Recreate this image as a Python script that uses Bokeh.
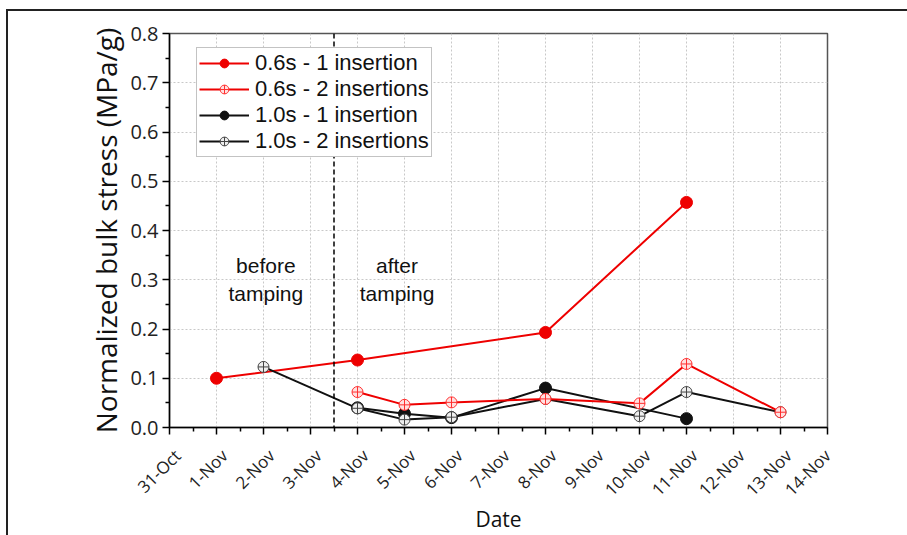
import math
from bokeh.plotting import figure
from bokeh.layouts import column
from bokeh.models import (Range1d, FixedTicker, Span, Legend, LegendItem, PrintfTickFormatter,
                          ColumnDataSource, LinearAxis, Div)
from bokeh.core.properties import value
from bokeh.embed import file_html
from bokeh.resources import INLINE

date_labels = ["31-Oct", "1-Nov", "2-Nov", "3-Nov", "4-Nov", "5-Nov", "6-Nov", "7-Nov",
               "8-Nov", "9-Nov", "10-Nov", "11-Nov", "12-Nov", "13-Nov", "14-Nov"]
y_ticks = [0.0, 0.1, 0.2, 0.3, 0.4, 0.5, 0.6, 0.7, 0.8]

d_06_1 = ["1-Nov", "4-Nov", "8-Nov", "11-Nov"]
v_06_1 = [0.100, 0.137, 0.193, 0.457]
d_06_2 = ["4-Nov", "5-Nov", "6-Nov", "8-Nov", "10-Nov", "11-Nov", "13-Nov"]
v_06_2 = [0.072, 0.046, 0.051, 0.058, 0.049, 0.129, 0.031]
d_10_1 = ["4-Nov", "5-Nov", "6-Nov", "8-Nov", "11-Nov"]
v_10_1 = [0.040, 0.028, 0.020, 0.080, 0.018]
d_10_2 = ["2-Nov", "4-Nov", "5-Nov", "6-Nov", "8-Nov", "10-Nov", "11-Nov", "13-Nov"]
v_10_2 = [0.123, 0.039, 0.016, 0.021, 0.058, 0.023, 0.072, 0.031]

tamping_boundary = 3.5  # between 3-Nov and 4-Nov

def xi(dates):
    return [date_labels.index(d) for d in dates]

n = len(date_labels)
p = figure(width=899, height=524, x_range=Range1d(0, n - 1), y_range=Range1d(0, 0.8),
           output_backend="svg", toolbar_location=None,
           min_border_left=161, min_border_right=80, min_border_top=22, min_border_bottom=107)
p.styles = {"outline": "2px solid #222", "margin-left": "8px"}
p.background_fill_color = "white"
p.border_fill_color = "white"
p.outline_line_color = "#555555"
p.outline_line_width = 1.5

# main axes (ticks only on x)
p.xaxis.ticker = FixedTicker(ticks=list(range(n)), minor_ticks=[i + 0.5 for i in range(n - 1)])
p.xaxis.major_label_overrides = {i: "" for i in range(n)}
p.xaxis.major_label_text_font_size = "0px"
p.xaxis.major_label_standoff = 0
p.yaxis.ticker = FixedTicker(ticks=y_ticks, minor_ticks=[t + 0.05 for t in y_ticks[:-1]])
p.yaxis.formatter = PrintfTickFormatter(format="%.1f")

for ax in (p.xaxis[0], p.yaxis[0]):
    ax.axis_line_color = "black"
    ax.axis_line_width = 1.5
    ax.major_tick_line_color = "black"
    ax.major_tick_line_width = 1.5
    ax.minor_tick_line_color = "black"
    ax.minor_tick_line_width = 1.5
    ax.major_tick_in = 0
    ax.major_tick_out = 7
    ax.minor_tick_in = 0
    ax.minor_tick_out = 4
    ax.major_label_text_font = "Open Sans"
    ax.major_label_text_color = "#222222"
    ax.axis_label_text_font = "Open Sans"
    ax.axis_label_text_font_style = "normal"
    ax.axis_label_text_color = "#111111"

p.yaxis.major_label_text_font_size = "20px"
p.yaxis.axis_label = "Normalized bulk stress (MPa/g)"
p.yaxis.axis_label_text_font_size = "28px"
p.yaxis.axis_label_standoff = 2
p.yaxis.major_label_standoff = 4

# date labels on a slightly shifted label axis (labels sit a bit right of their ticks)
shift = 0.17
p.extra_x_ranges = {"labels": Range1d(-shift, (n - 1) - shift)}
lab_ticks = list(range(n - 1)) + [(n - 1) - shift]
lab_axis = LinearAxis(x_range_name="labels", ticker=FixedTicker(ticks=lab_ticks),
                      major_label_overrides={t: lab for t, lab in zip(lab_ticks, date_labels)},
                      axis_line_color=None, major_tick_line_color=None, minor_tick_line_color=None,
                      major_tick_in=0, major_tick_out=0, minor_tick_in=0, minor_tick_out=0,
                      major_label_orientation=math.pi / 4, major_label_standoff=18,
                      major_label_text_font="Open Sans", major_label_text_font_size="17px",
                      major_label_text_color="#222222",
                      axis_label="Date", axis_label_text_font="Open Sans",
                      axis_label_text_font_size="21px", axis_label_text_font_style="normal",
                      axis_label_text_color="#111111", axis_label_standoff=-7)
p.add_layout(lab_axis, "below")

for g in (p.xgrid[0], p.ygrid[0]):
    g.grid_line_color = "#c8c8c8"
    g.grid_line_dash = "2 2"
    g.grid_line_width = 1
p.xgrid.ticker = p.xaxis[0].ticker
p.ygrid.ticker = p.yaxis[0].ticker

p.add_layout(Span(location=tamping_boundary, dimension="height", line_color="black",
                  line_width=1.5, line_dash="5 3"))

red = "#ee0000"
blk = "#111111"

l1 = p.line(xi(d_06_1), v_06_1, line_color=red, line_width=2)
m1 = p.scatter(xi(d_06_1), v_06_1, marker="circle", size=12, fill_color=red, line_color=red)
l3 = p.line(xi(d_10_1), v_10_1, line_color=blk, line_width=2)
m3 = p.scatter(xi(d_10_1), v_10_1, marker="circle", size=12, fill_color=blk, line_color=blk)
l4 = p.line(xi(d_10_2), v_10_2, line_color=blk, line_width=2)
m4 = p.scatter(xi(d_10_2), v_10_2, marker="circle_cross", size=11, fill_color="#eeeeee",
               line_color="#444444", line_width=1)
l2 = p.line(xi(d_06_2), v_06_2, line_color=red, line_width=2)
m2 = p.scatter(xi(d_06_2), v_06_2, marker="circle_cross", size=11, fill_color="#ffe0e0",
               line_color="#ff3030", line_width=1)

# annotations
ann = ColumnDataSource(dict(x=[2.05, 2.05, 4.84, 4.84], y=[0.328, 0.273, 0.328, 0.273],
                            t=["before", "tamping", "after", "tamping"]))
p.text(x="x", y="y", text="t", source=ann, text_font=value("Liberation Sans"),
       text_font_size="21px", text_align="center", text_baseline="middle", text_color="#111111")

legend = Legend(items=[
    LegendItem(label="0.6s - 1 insertion", renderers=[l1, m1]),
    LegendItem(label="0.6s - 2 insertions", renderers=[l2, m2]),
    LegendItem(label="1.0s - 1 insertion", renderers=[l3, m3]),
    LegendItem(label="1.0s - 2 insertions", renderers=[l4, m4]),
], location=(27, 270))
legend.margin = 0
legend.padding = 2
legend.spacing = 0
legend.glyph_width = 50
legend.glyph_height = 22
legend.label_height = 22
legend.label_standoff = 6
legend.label_text_font = "Liberation Sans"
legend.label_text_font_size = "22px"
legend.label_text_color = "#111111"
legend.border_line_color = "#888888"
legend.border_line_width = 1
legend.background_fill_alpha = 1
p.add_layout(legend)

# top edge of the outer frame
top_rule = Div(text="", width=900, height=2, margin=(9, 0, 0, 7),
               styles={"background-color": "#222222"})

layout = column(top_rule, p, spacing=0)
open("out.html", "w").write(file_html(layout, INLINE))
